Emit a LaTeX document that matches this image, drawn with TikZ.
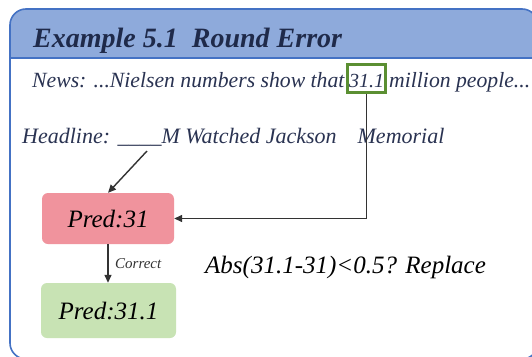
\documentclass[tikz,border=0pt]{standalone}
\usepackage{fontspec}
\setmainfont{Liberation Serif}[ItalicFont={Liberation Serif Italic}, BoldItalicFont={Liberation Serif Bold Italic}, BoldFont={Liberation Serif Bold}]
\usetikzlibrary{arrows.meta}
\definecolor{hdrfill}{HTML}{8EAADB}
\definecolor{frameblue}{HTML}{4472C4}
\definecolor{navy}{HTML}{1F2A4A}
\definecolor{txtnavy}{HTML}{2A3352}
\definecolor{pinkfill}{HTML}{F0939D}
\definecolor{greenfill}{HTML}{C8E3B4}
\definecolor{boxgreen}{HTML}{5B8F32}
\definecolor{arrowgray}{HTML}{333333}
\begin{document}
\begin{tikzpicture}[x=1pt,y=-1pt,
  lbl/.style={anchor=base west, inner sep=0pt, font=\fontsize{21.7}{24}\selectfont\itshape, text=txtnavy},
  predbox/.style={rounded corners=6pt, minimum width=132pt, minimum height=51pt, inner sep=0pt, font=\fontsize{25}{28}\selectfont\itshape},
  conn/.style={draw=arrowgray, line width=1.4pt, -{Triangle[length=8pt,width=7pt]}},
]
\useasboundingbox (0,0) rectangle (532,356);
\fill[white] (0,0) rectangle (532,356);
\clip (0,0) rectangle (532,356);
% frame and header band
\begin{scope}
  \clip[rounded corners=16pt] (10,9) rectangle (538,359);
  \fill[hdrfill] (10,9) rectangle (538,58);
\end{scope}
\draw[frameblue, line width=1.8pt] (10,58) -- (538,58);
\draw[frameblue, line width=1.6pt, rounded corners=16pt] (10,9) rectangle (538,359);
% title
\node[anchor=base west, inner sep=0pt, font=\fontsize{28}{30}\selectfont\bfseries\itshape, text=navy] (title) at (33,47) {Example 5.1\ \ Round Error};
% news line
\node[lbl] (news) at (32,87.5) {News: ...Nielsen numbers show that};
\node[draw=boxgreen, line width=2.8pt, minimum width=38pt, minimum height=28pt, inner sep=0pt] (numbox) at (366.5,78.5) {};
\node[lbl, anchor=base, font=\fontsize{20}{22}\selectfont\itshape] (num) at (366.5,87.5) {31.1};
\node[lbl] (news2) at (389,87.5) {million people...};
% headline
\node[lbl, font=\fontsize{22}{24}\selectfont\itshape] (head) at (22,143) {Headline: \_\_\_\_M Watched Jackson\hspace{21pt}Memorial};
\coordinate (blank) at (147,151);
% prediction boxes
\node[predbox, fill=pinkfill] (pred) at (108,218.5) {Pred:31};
\node[predbox, fill=greenfill, minimum width=135pt, minimum height=55pt] (fixed) at (108.5,310.5) {Pred:31.1};
% connectors
\draw[conn] (blank) -- (pred.north);
\draw[conn] (pred.south) -- (pred.south |- fixed.north);
\node[anchor=base west, inner sep=0pt, font=\fontsize{15}{17}\selectfont\itshape, text=arrowgray] (corr) at (115,268) {Correct};
\draw[conn] (numbox.south) -- (numbox.south |- pred.east) -- (pred.east);
% rule text
\node[anchor=base west, inner sep=0pt, font=\fontsize{25}{28}\selectfont\itshape, text=black] (abs) at (205,273) {Abs(31.1-31)<0.5? Replace};
\end{tikzpicture}
\end{document}
